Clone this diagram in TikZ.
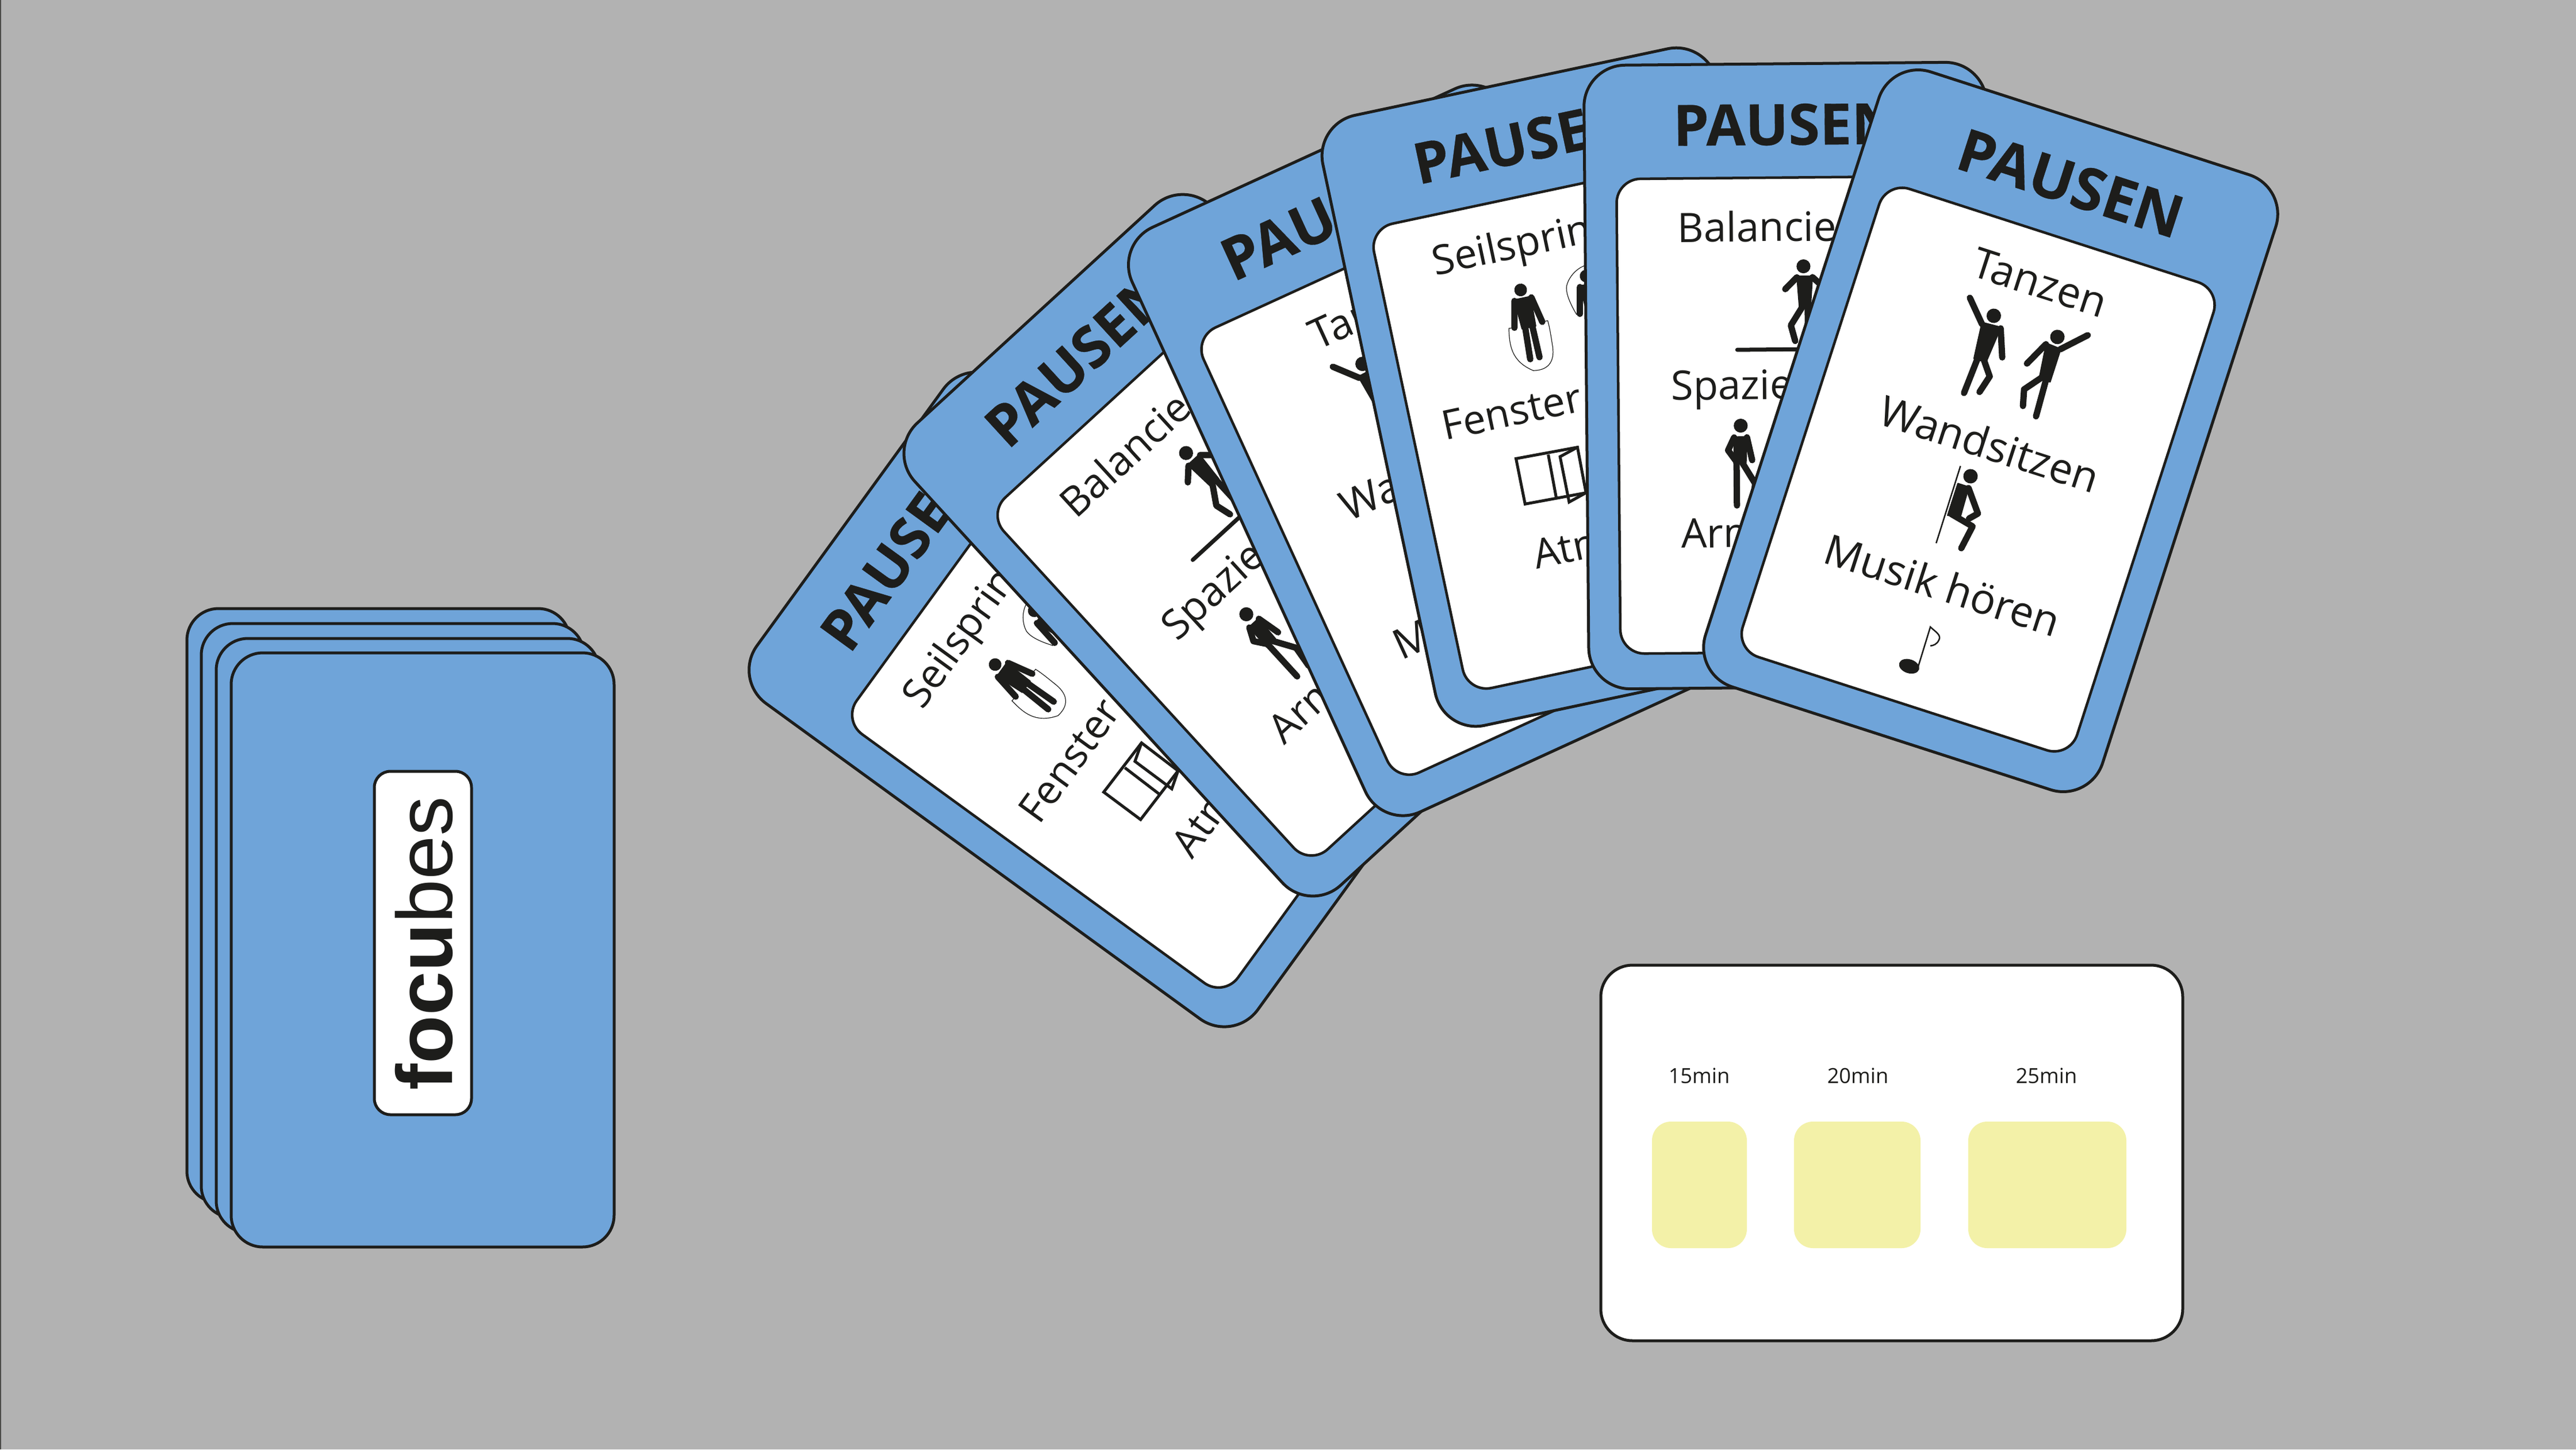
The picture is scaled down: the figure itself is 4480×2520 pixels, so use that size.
\documentclass[tikz,border=0pt]{standalone}
\usepackage{fontspec}
\setmainfont{Open Sans}
\newfontfamily\titlefont{Open Sans}[BoldFeatures={FakeBold=0.35}]
\newfontfamily\logofont{Liberation Sans}

\definecolor{desk}{HTML}{B2B2B2}
\definecolor{cardblue}{HTML}{6FA4D9}
\definecolor{ink}{HTML}{1D1D1B}
\definecolor{slot}{HTML}{F3F1A8}

\tikzset{cardplate/.style={fill=cardblue,draw=ink,line width=.05cm,rounded corners=.72cm}}
\tikzset{cardface/.style={fill=white,draw=ink,line width=.045cm,rounded corners=.42cm}}
\tikzset{cardtitle/.style={font=\titlefont\fontsize{29}{34}\selectfont\bfseries,text=ink,inner sep=0pt}}
\tikzset{cardtext/.style={font=\fontsize{20.7}{24}\selectfont,text=ink,inner sep=0pt}}
\tikzset{limb/.style={draw=ink,line width=.11cm,line cap=round,line join=round}}
\tikzset{trunk/.style={fill=ink,draw=ink,line width=.02cm,line join=round}}
\tikzset{rope/.style={draw=ink,line width=.012cm}}
\tikzset{frame/.style={draw=ink,line width=.05cm,line join=miter}}
\tikzset{backplate/.style={fill=cardblue,draw=ink,line width=.05cm,rounded corners=.55cm}}
\tikzset{timerlabel/.style={font=\fontsize{10.3}{12}\selectfont,text=ink,inner sep=0pt}}

% name, centre x, centre y, angle, scale, contents
\newcommand{\pausecard}[6]{%
  \begin{scope}[shift={(#2,#3)},rotate=#4,scale=#5,transform shape]
    \path[cardplate] (-361,-559) rectangle (361,559);
    \path[cardface] (-304,-355) rectangle (304,496);
    \node[cardtitle] (#1title) at (0,-450) {PAUSEN};
    #6
  \end{scope}}

% person with both arms down, legs straight
\newcommand{\ropeman}[1]{%
  \begin{scope}[shift={(#1,0)}]
    \fill[ink] (0,-191) circle (11.4);
    \path[trunk] (-15,-176) -- (15,-176) -- (13,-122) -- (-12,-122) -- cycle;
    \draw[limb] (-15,-174) -- (-25,-127);
    \draw[limb] (16,-174) -- (26,-127);
    \draw[limb] (-6,-124) -- (-9,-66);
    \draw[limb] (7,-124) -- (8,-66);
  \end{scope}}

\newcommand{\seilfelder}[1]{%
  \node[cardtext,anchor=west] (#1one) at (-206,-267) {Seilsprin};
  \ropeman{-61}
  \ropeman{59}
  \draw[rope] (-87,-127) -- (-96,-128) .. controls (-101,-100) and (-105,-70) .. (-69,-45)
     .. controls (-45,-40) and (-28,-50) .. (-26,-80) .. controls (-25,-100) and (-24,-115) .. (-25,-127) -- (-36,-127);
  \draw[rope] (37,-127) -- (28,-127) .. controls (20,-150) and (15,-175) .. (24,-186)
     .. controls (33,-200) and (50,-210) .. (65,-210);
  \node[cardtext,anchor=west] (#1two) at (-250,19) {Fenster};
  \draw[frame] (-132,103) -- (-20,106) -- (-22,189) -- (-133,186) -- cycle;
  \draw[frame] (-74,108) -- (-76,187);
  \draw[frame] (-20,106) -- (-54,116) -- (-55,199) -- (-22,189);
  \node[cardtext,anchor=west] (#1three) at (-138,279) {Atm};}

\newcommand{\balancefelder}[1]{%
  \node[cardtext,anchor=west] (#1one) at (-196,-268) {Balancier};
  \fill[ink] (30,-195.6) circle (12.5);
  \path[trunk] (18,-178) -- (46,-178) -- (42,-122) -- (22,-122) -- cycle;
  \draw[limb] (18,-176) -- (-3,-155);
  \draw[limb] (46,-176) -- (69,-155);
  \draw[limb] (28,-124) -- (6.5,-90) -- (14,-62);
  \draw[limb] (37,-124) -- (37,-57);
  \draw[draw=ink,line width=.07cm,line cap=round] (-90,-47) -- (70,-47);
  \node[cardtext,anchor=west] (#1two) at (-210,24) {Spazie};
  \fill[ink] (-85,89) circle (12.5);
  \path[trunk] (-97,109) -- (-74,109) -- (-76,156) -- (-98,156) -- cycle;
  \draw[limb] (-97,110) -- (-108,133) -- (-95,151);
  \draw[limb] (-74,110) -- (-65,151);
  \draw[limb] (-93,155) -- (-93,232);
  \draw[limb] (-83,155) -- (-60,193) -- (-65,232);
  \node[cardtext,anchor=west] (#1three) at (-194,281) {Arm};}

\newcommand{\tanzfelder}[1]{%
  \node[cardtext] (#1one) at (2,-270) {Tanzen};
  \fill[ink] (-56,-191) circle (12.5);
  \path[trunk] (-72,-174) -- (-38,-176) -- (-44,-110) -- (-66,-110) -- cycle;
  \draw[limb] (-71,-171) -- (-105,-208);
  \draw[limb] (-38,-174) -- (-20,-127);
  \draw[limb] (-60,-112) -- (-64,-48);
  \draw[limb] (-48,-112) -- (-30.5,-89) -- (-39,-58);
  \fill[ink] (60,-190) circle (12.5);
  \path[trunk] (45,-174) -- (72,-172) -- (72,-112) -- (52,-112) -- cycle;
  \draw[limb] (71,-171) -- (109,-209);
  \draw[limb] (45,-172) -- (24,-130);
  \draw[limb] (64,-114) -- (67,-48);
  \draw[limb] (55,-114) -- (33,-86) -- (40,-58);
  \node[cardtext] (#1two) at (5,22) {Wandsitzen};
  \draw[draw=ink,line width=.025cm] (-31,74) -- (-30,214);
  \fill[ink] (-9,85.5) circle (12.5);
  \path[trunk] (-26,104) -- (-6,104) -- (-4,160) -- (-26,162) -- cycle;
  \draw[limb] (-20,158) -- (21,167) -- (14,209);
  \draw[limb] (-6,106) -- (23,143) -- (11,156);
  \node[cardtext] (#1three) at (3,279) {Musik hören};
  \fill[ink] (-9,431) ellipse (18 and 12);
  \draw[draw=ink,line width=.025cm] (6,426) -- (5,355) .. controls (15,360) and (28,362) .. (26,372) .. controls (25,380) and (20,384) .. (15,386);}

\begin{document}
\begin{tikzpicture}[x=.01cm,y=-.01cm]
  \fill[desk] (0,0) rectangle (4480,2520);
  \fill[ink!70!desk] (0,0) rectangle (2,2520);

  % the stack
  \path[backplate] (325,1058) rectangle +(666,1033);
  \path[backplate] (350,1084) rectangle +(666,1033);
  \path[backplate] (376,1110) rectangle +(666,1033);
  \path[backplate] (402,1135) rectangle +(666,1033);
  \path[fill=white,draw=ink,line width=.05cm,rounded corners=.28cm] (651,1341) rectangle (820,1938);
  \node[rotate=90,anchor=base west,inner sep=0pt,text=ink,font=\logofont\fontsize{39}{44}\selectfont] (logo)
    at (786,1896) {\textbf{focu}bes};

  % the fan
  \pausecard{seilA}{1914}{1216}{54}{.963}{\seilfelder{seilA}}
  \pausecard{baleA}{2170}{948}{42.5}{.975}{\balancefelder{baleA}}
  \pausecard{tanzA}{2500}{783}{24.6}{1}{\tanzfelder{tanzA}}
  \pausecard{seilB}{2741}{673}{12}{.97}{\seilfelder{seilB}}
  \pausecard{baleB}{3109}{653}{.5}{.97}{\balancefelder{baleB}}
  \pausecard{tanzB}{3462}{749}{-17.9}{1.005}{\tanzfelder{tanzB}}

  % the timer card
  \path[fill=white,draw=ink,line width=.05cm,rounded corners=.55cm] (2784,1678) rectangle (3796,2331);
  \path[fill=slot,rounded corners=.33cm] (2873,1950) rectangle (3038,2170);
  \path[fill=slot,rounded corners=.33cm] (3120,1950) rectangle (3340,2170);
  \path[fill=slot,rounded corners=.33cm] (3423,1950) rectangle (3698,2170);
  \node[timerlabel] (short) at (2955,1870) {15min};
  \node[timerlabel] (middle) at (3231,1870) {20min};
  \node[timerlabel] (long) at (3559,1870) {25min};
\end{tikzpicture}
\end{document}
